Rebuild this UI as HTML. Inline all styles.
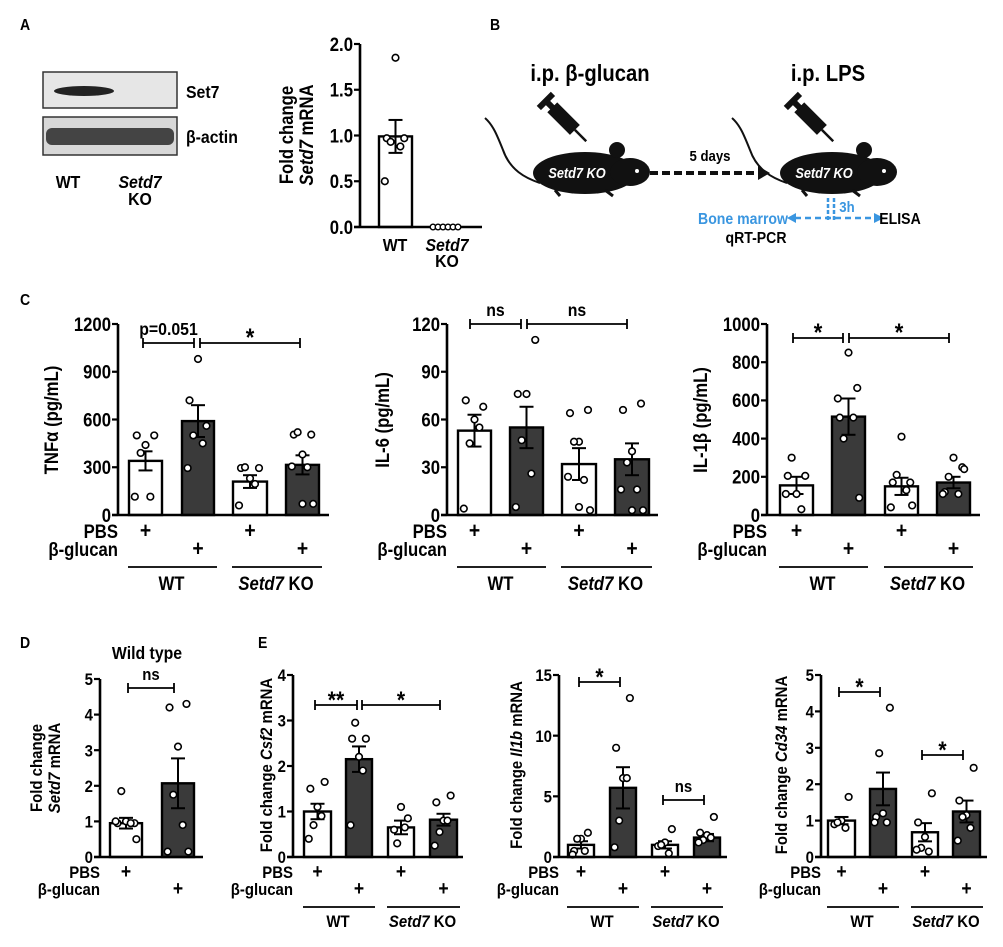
<!DOCTYPE html>
<html><head><meta charset="utf-8"><style>
html,body{margin:0;padding:0;background:#fff;}
svg{display:block;font-family:"Liberation Sans",sans-serif;font-weight:bold;}
</style></head><body>
<svg id="s" width="1003" height="947" viewBox="0 0 1003 947" xmlns="http://www.w3.org/2000/svg"></svg>
<script>
let s='';
const SX=0.88;
function t(x,y,str,fs,anc,extra){s+=`<text transform="translate(${x},${y}) scale(${SX},1)" font-size="${fs}" text-anchor="${anc||'middle'}" ${extra||''}>${str}</text>`;}
function L(x1,y1,x2,y2,w,c,extra){s+=`<line x1="${x1}" y1="${y1}" x2="${x2}" y2="${y2}" stroke="${c||'#000'}" stroke-width="${w||2}" ${extra||''}/>`;}
function br(x1,x2,y,lab,fs){L(x1,y,x2,y,1.8);L(x1,y-5,x1,y+5,1.8);L(x2,y-5,x2,y+5,1.8);t((x1+x2)/2,y-(lab[0]=='*'?-3:8),lab,lab[0]=='*'?fs+7:fs);}
function chart(c){
 const k=(c.y0-c.ytop)/c.max, Y=v=>c.y0-v*k, fs=c.fs;
 c.ticks.forEach(v=>{L(c.ax-6,Y(v),c.ax,Y(v),2.2);t(c.ax-7,Y(v)+fs*0.36,c.tl?c.tl(v):v,fs,'end');});
 c.bars.forEach(b=>{
  const w=b[1]-b[0],cx=(b[0]+b[1])/2;
  s+=`<rect x="${b[0]}" y="${Y(b[2])}" width="${w}" height="${b[2]*k}" fill="${b[4]?'#3a3a3a':'#fff'}" stroke="#000" stroke-width="2.4"/>`;
  L(cx,Y(b[2]-b[3]),cx,Y(b[2]+b[3]),2);L(cx-7,Y(b[2]+b[3]),cx+7,Y(b[2]+b[3]),2);L(cx-7,Y(b[2]-b[3]),cx+7,Y(b[2]-b[3]),2);
  const off=[0,-9,9,-5,5,-11,11,0];
  b[5].forEach((v,i)=>{s+=`<circle cx="${cx+off[i%8]*(w/34)}" cy="${Y(v)}" r="3.3" fill="#fff" stroke="#000" stroke-width="1.6"/>`;});
 });
 L(c.ax,c.ytop,c.ax,c.y0+1,2.6);L(c.ax-6,c.y0,c.end,c.y0,2.6);
 if(c.rows){const r=c.rows;
  t(c.ax,r[0],'PBS',fs,'end');t(c.ax,r[1],'β-glucan',fs,'end');
  c.bars.forEach((b,i)=>{t((b[0]+b[1])/2,i%2==0?r[0]:r[1],'+',fs+3);});
  if(c.bars.length==4){const g=c.bars;
   L(g[0][0]-1,r[2],g[1][1]+3,r[2],1.8);L(g[2][0]-1,r[2],g[3][1]+3,r[2],1.8);
   t((g[0][0]+g[1][1])/2,r[3],'WT',fs);
   t((g[2][0]+g[3][1])/2,r[3],'<tspan font-style="italic">Setd7</tspan> KO',fs);}
 }
 if(c.yt){const [x,y,lines]=c.yt;lines.forEach((ln,i)=>{s+=`<text transform="translate(${x+i*(fs+1)},${y}) rotate(-90) scale(${SX},1)" font-size="${fs}" text-anchor="middle">${ln}</text>`;});}
}
t(20,30,'A',16,'start');t(490,30,'B',16,'start');t(20,305,'C',16,'start');t(20,648,'D',16,'start');t(258,648,'E',16,'start');
s+=`<rect x="43" y="72" width="134" height="36" fill="#e6e6e6" stroke="#333" stroke-width="1.5"/>`;
s+=`<ellipse cx="84" cy="91" rx="30" ry="5" fill="#222"/>`;
s+=`<rect x="43" y="117" width="134" height="38" fill="#d8d8d8" stroke="#333" stroke-width="1.5"/>`;
s+=`<rect x="46" y="128" width="128" height="17" rx="6" fill="#444"/>`;
t(186,98,'Set7',18,'start');t(186,143,'β-actin',18,'start');
t(68,188,'WT',18);t(140,188,'Setd7',18,'middle','font-style="italic"');t(140,205,'KO',18);
chart({ax:360,y0:227,ytop:44,max:2,ticks:[0,0.5,1,1.5,2],tl:v=>v.toFixed(1),fs:19,end:482,
 bars:[[379,412,0.99,0.18,0,[1.85,0.97,0.97,0.93,0.88,0.5]]],yt:[293,135,['Fold change','<tspan font-style="italic">Setd7</tspan> mRNA']]});
[433,438,443,448,453,458].forEach(x=>{s+=`<circle cx="${x}" cy="227" r="2.8" fill="#fff" stroke="#000" stroke-width="1.4"/>`;});
t(395,251,'WT',18);t(447,251,'Setd7',18,'middle','font-style="italic"');t(447,267,'KO',18);
function mouse(cx){
 s+=`<path d="M${cx-45},183 C${cx-60},178 ${cx-75},170 ${cx-82},150 C${cx-88},135 ${cx-92},125 ${cx-100},118" fill="none" stroke="#111" stroke-width="2"/>`;
 s+=`<ellipse cx="${cx}" cy="173" rx="52" ry="21" fill="#111"/>`;
 s+=`<ellipse cx="${cx+45}" cy="172" rx="20" ry="14" fill="#111"/>`;
 s+=`<circle cx="${cx+32}" cy="150" r="8" fill="#111"/>`;
 s+=`<circle cx="${cx+52}" cy="171" r="2" fill="#fff"/>`;
 L(cx-30,190,cx-25,196,3,'#111');L(cx+20,190,cx+28,196,3,'#111');
 s+=`<text transform="translate(${cx-8},178) scale(0.85,1)" font-size="15" fill="#fff" text-anchor="middle" font-style="italic">Setd7 KO</text>`;
 s+=`<g transform="translate(${cx-20},120) rotate(45)"><rect x="-18" y="-7" width="32" height="14" fill="#111"/><rect x="-30" y="-10" width="6" height="20" fill="#111"/><rect x="-26" y="-3" width="10" height="6" fill="#111"/><line x1="14" y1="0" x2="30" y2="0" stroke="#111" stroke-width="2.5"/></g>`;
}
mouse(585);mouse(832);
t(590,81,'i.p. β-glucan',23);t(828,81,'i.p. LPS',23);
t(710,161,'5 days',15);
L(650,173,760,173,4,'#111','stroke-dasharray="8,4"');s+=`<polygon points="758,166 770,173 758,180" fill="#111"/>`;
L(828,198,828,220,2.5,'#3a96e0','stroke-dasharray="4,2"');L(834,198,834,220,2.5,'#3a96e0','stroke-dasharray="4,2"');
L(795,218,875,218,2.5,'#3a96e0','stroke-dasharray="6,4"');
s+=`<polygon points="796,213 787,218 796,223" fill="#3a96e0"/><polygon points="874,213 884,218 874,223" fill="#3a96e0"/>`;
t(847,212,'3h',15,'middle','fill="#3a96e0"');t(743,224,'Bone marrow',16,'middle','fill="#3a96e0"');
t(900,224,'ELISA',16);t(756,243,'qRT-PCR',16);
const rC=[538,556,567,590];
chart({ax:118,y0:515,ytop:324,max:1200,ticks:[0,300,600,900,1200],fs:19,end:329,rows:rC,
 bars:[[129,162,340,60,0,[440,500,500,390,115,115]],[182,214,590,100,1,[980,720,560,500,450,295]],
 [233,267,210,40,0,[230,295,295,300,195,60]],[286,319,315,60,1,[380,505,505,520,300,305,70,70]]],
 yt:[58,420,['TNFα (pg/mL)']]});
br(143,194,343,'p=0.051',18);br(200,300,343,'*',18);
chart({ax:447,y0:515,ytop:324,max:120,ticks:[0,30,60,90,120],fs:19,end:658,rows:rC,
 bars:[[458,491,53,10,0,[60,72,68,45,55,4]],[510,543,55,13,1,[76,76,110,47,26,5]],
 [562,596,32,10,0,[46,64,66,46,22,24,3,5]],[615,649,35,10,1,[40,66,70,33,16,16,3,3]]],
 yt:[389,420,['IL-6 (pg/mL)']]});
br(470,521,324,'ns',18);br(527,627,324,'ns',18);
chart({ax:767,y0:515,ytop:324,max:1000,ticks:[0,200,400,600,800,1000],fs:19,end:980,rows:rC,
 bars:[[780,813,155,45,0,[110,205,205,300,30,110]],[832,865,515,95,1,[850,510,665,400,510,610,90]],
 [885,918,150,45,0,[410,170,170,210,130,40,50]],[937,970,170,30,1,[300,120,250,200,110,110,240]]],
 yt:[707,420,['IL-1β (pg/mL)']]});
br(793,843,338,'*',18);br(849,949,338,'*',18);
chart({ax:100,y0:857,ytop:679,max:5,ticks:[0,1,2,3,4,5],fs:17,end:203,rows:[878,895],
 bars:[[110,142,0.95,0.15,0,[1.0,0.95,0.95,1.85,0.95,1.0,0.5]],[162,194,2.07,0.7,1,[3.1,4.2,4.3,1.75,0.9,0.15,0.15]]],
 yt:[42,768,['Fold change','<tspan font-style="italic">Setd7</tspan> mRNA']]});
t(147,659,'Wild type',18);br(128,174,688,'ns',17);
const rE=[878,895,907,927];
chart({ax:293,y0:857,ytop:675,max:4,ticks:[0,1,2,3,4],fs:17,end:463,rows:rE,
 bars:[[304,331,1.0,0.17,0,[1.1,1.5,1.65,0.7,0.9,0.4]],[346,372,2.15,0.28,1,[2.2,2.6,2.6,2.95,1.9,0.7]],
 [388,414,0.65,0.15,0,[1.1,0.6,0.85,0.3,0.65]],[430,457,0.82,0.13,1,[0.8,1.2,1.35,0.55,0.8,0.25]]],
 yt:[272,765,['Fold change <tspan font-style="italic">Csf2</tspan> mRNA']]});
br(315,357,705,'**',17);br(362,440,705,'*',17);
chart({ax:559,y0:857,ytop:675,max:15,ticks:[0,5,10,15],fs:17,end:727,rows:rE,
 bars:[[568,594,1.0,0.3,0,[1.5,0.5,2,1.5,0.5,0.2]],[610,636,5.7,1.7,1,[6.5,9,13.1,3,6.5,0.8]],
 [652,678,1.0,0.3,0,[1.2,0.9,2.3,1.0,0.3]],[694,720,1.6,0.3,1,[1.8,2,3.3,1.4,1.6,1.2]]],
 yt:[522,765,['Fold change <tspan font-style="italic">Il1b</tspan> mRNA']]});
br(579,620,682,'*',17);br(663,704,800,'ns',17);
chart({ax:821,y0:857,ytop:675,max:5,ticks:[0,1,2,3,4,5],fs:17,end:987,rows:rE,
 bars:[[828,855,1.0,0.1,0,[1.0,0.9,1.65,0.95,0.8]],[870,896,1.87,0.45,1,[1.2,1.1,4.1,2.85,0.95,0.95]],
 [912,938,0.68,0.25,0,[0.55,0.95,1.75,0.25,0.15,0.2]],[953,980,1.25,0.3,1,[1.15,1.55,2.45,1.1,0.8,0.45]]],
 yt:[787,765,['Fold change <tspan font-style="italic">Cd34</tspan> mRNA']]});
br(839,880,692,'*',17);br(922,963,755,'*',17);
document.getElementById('s').innerHTML=s;
</script>
</body></html>
